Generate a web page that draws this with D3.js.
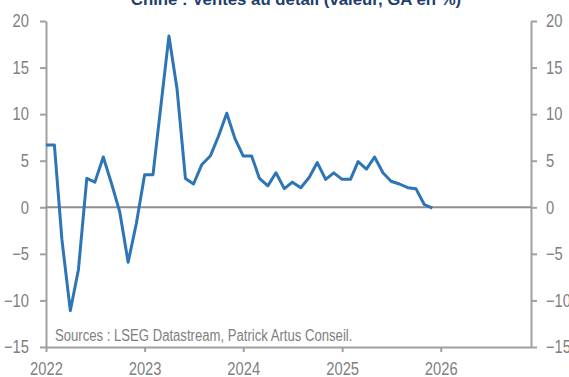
<!DOCTYPE html>
<html><head><meta charset="utf-8">
<script src="https://cdn.jsdelivr.net/npm/d3@7"></script>
<style>
html,body{margin:0;padding:0;background:#fff;overflow:hidden}
svg{display:block}
</style></head>
<body>
<svg id="c" width="569" height="377"></svg>
<script>
const title = "Chine : Ventes au détail (valeur, GA en %)";
const source = "Sources : LSEG Datastream, Patrick Artus Conseil.";
const startMonth = "2022-01";
const values = [
  6.7, 6.7, -3.5, -11.1, -6.7, 3.1, 2.7, 5.4, 2.5, -0.5, -5.9, -1.8,
  3.5, 3.5, 10.6, 18.4, 12.7, 3.1, 2.5, 4.6, 5.5, 7.6, 10.1, 7.4,
  5.5, 5.5, 3.1, 2.3, 3.7, 2.0, 2.7, 2.1, 3.2, 4.8, 3.0, 3.7,
  3.0, 3.0, 4.9, 4.1, 5.4, 3.7, 2.8, 2.5, 2.1, 2.0, 0.3, -0.1
];
const yTicks = [-15, -10, -5, 0, 5, 10, 15, 20];
const xTickYears = [2022, 2023, 2024, 2025, 2026];

(function () {
const svg = d3.select("#c");
const mL = 46, mR = 531, mT = 21, mB = 347;
const parse = d3.timeParse("%Y-%m");
const t0 = parse(startMonth);
const data = values.map((v, i) => ({ d: d3.timeMonth.offset(t0, i), v }));

const x = d3.scaleTime().domain([t0, new Date(2026, 11, 1)]).range([mL, mR]);
const y = d3.scaleLinear().domain([-15, 20]).range([mB, mT]);

const axisColor = "#a0a0a0", labelColor = "#808080";
const font = "'Liberation Sans Narrow', 'Arial Narrow', 'Liberation Sans', Arial, sans-serif";
const S = 0.82; // horizontal condensing to emulate a narrow face

function narrow(sel, s) {
  sel.each(function () {
    const t = d3.select(this);
    const X = +t.attr("x") || 0;
    t.attr("transform", `translate(${X * (1 - s)},0) scale(${s},1)`);
  });
}
function style(g) {
  g.select(".domain").attr("stroke", axisColor).attr("stroke-width", 2);
  g.selectAll(".tick line").attr("stroke", axisColor).attr("stroke-width", 2);
  g.selectAll(".tick text").attr("fill", labelColor).style("font-family", font).style("font-size", "18px").call(narrow, S);
}

svg.append("g").attr("transform", `translate(${mL},0)`)
  .call(d3.axisLeft(y).tickValues(yTicks).tickSize(6).tickSizeOuter(0).tickPadding(11).tickFormat(d3.format("d")))
  .call(style);
svg.append("g").attr("transform", `translate(${mR},0)`)
  .call(d3.axisRight(y).tickValues(yTicks).tickSize(6).tickSizeOuter(0).tickPadding(9).tickFormat(d3.format("d")))
  .call(style);
svg.append("g").attr("transform", `translate(0,${mB})`)
  .call(d3.axisBottom(x).tickValues(xTickYears.map(yr => new Date(yr, 0, 1))).tickSize(5).tickSizeOuter(0).tickPadding(10).tickFormat(d3.timeFormat("%Y")))
  .call(style);

svg.append("line").attr("x1", mL).attr("x2", mR).attr("y1", y(0)).attr("y2", y(0))
  .attr("stroke", "#8f8f8f").attr("stroke-width", 2);

svg.append("path").datum(data)
  .attr("fill", "none").attr("stroke", "#2E75B6").attr("stroke-width", 3).attr("stroke-linejoin", "round")
  .attr("d", d3.line().x(d => x(d.d)).y(d => y(d.v)));

svg.append("text").attr("x", 55).attr("y", 341).text(source)
  .attr("fill", labelColor).style("font-family", font).style("font-size", "16px").call(narrow, S);

svg.append("text").attr("x", 296).attr("y", 5).attr("text-anchor", "middle").text(title)
  .attr("fill", "#1F3E6E").style("font-family", "'Liberation Sans', Arial, sans-serif").style("font-weight", "bold").style("font-size", "16.8px");
})();
</script>
</body></html>
